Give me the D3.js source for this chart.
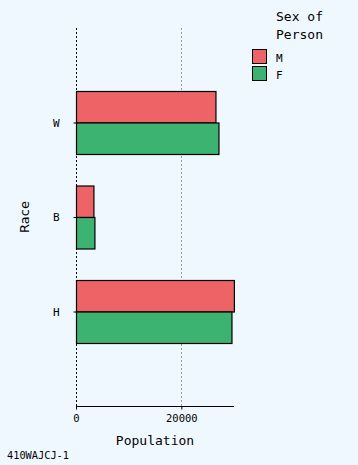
<!DOCTYPE html>
<html><head><meta charset="utf-8">
<script src="https://cdn.jsdelivr.net/npm/d3@7"></script>
<style>
html,body{margin:0;padding:0;background:#f0f8ff;}
svg{display:block;}
text{font-family:"DejaVu Sans Mono",monospace;fill:#000;}
</style></head>
<body>
<script>
const categories = ["W", "B", "H"];
const seriesNames = ["M", "F"];
const valuesM = [26480, 3310, 29980];
const valuesF = [27050, 3500, 29520];
const xTicks = [0, 20000];
const colors = ["#ee6466", "#3cb371"];

const W = 358, H = 465;
const svg = d3.select("body").append("svg").attr("width", W).attr("height", H);
svg.append("rect").attr("width", W).attr("height", H).attr("fill", "#f0f8ff");

const pL = 76, pR = 234, pT = 28, pB = 406;
const x = d3.scaleLinear().domain([0, 30000]).range([pL, pR]);
const y = d3.scalePoint().domain(categories).range([pT, pB]).padding(1);
const barH = y.step() / 3;
const series = [valuesM, valuesF];

// gridline
svg.selectAll(".grid").data(xTicks.filter(d => d > 0)).enter().append("line")
  .attr("x1", d => Math.round(x(d)) + 0.5).attr("x2", d => Math.round(x(d)) + 0.5).attr("y1", pT).attr("y2", pB)
  .attr("stroke", "#999").attr("stroke-dasharray", "2,2").attr("stroke-width", 1);

// left dashed axis line
svg.append("line").attr("x1", pL + 0.5).attr("x2", pL + 0.5).attr("y1", pT).attr("y2", pB)
  .attr("stroke", "#000").attr("stroke-dasharray", "2,2").attr("stroke-width", 1);

// bars
categories.forEach((c, i) => {
  series.forEach((vals, s) => {
    svg.append("rect")
      .attr("x", x(0) + 0.5)
      .attr("y", y(c) - barH + s * barH + 0.5)
      .attr("width", x(vals[i]) - x(0))
      .attr("height", barH)
      .attr("fill", colors[s]).attr("stroke", "#000").attr("stroke-width", 1.2);
  });
});

// y axis ticks & labels
const yAxis = d3.axisLeft(y).tickSize(3).tickPadding(14);
const gy = svg.append("g").attr("transform", `translate(${pL + 0.5},0)`).call(yAxis);
gy.select(".domain").remove();
gy.selectAll("text").style("font-size", "11px").style("font-family", "'DejaVu Sans Mono',monospace");

// x axis
const xAxis = d3.axisBottom(x).tickValues(xTicks).tickSize(3).tickFormat(d3.format("d")).tickPadding(5);
const gx = svg.append("g").attr("transform", `translate(0,${pB + 0.5})`).call(xAxis);
gx.select(".domain").attr("d", `M${pL},0H${pR}`).attr("stroke", "#000");
gx.selectAll("text").style("font-size", "10.5px").style("font-family", "'DejaVu Sans Mono',monospace");

// axis titles
svg.append("text").attr("x", (pL + pR) / 2).attr("y", 445).attr("text-anchor", "middle")
  .style("font-size", "13px").text("Population");
svg.append("text").attr("transform", `translate(29,${(pT + pB) / 2}) rotate(-90)`)
  .attr("text-anchor", "middle").style("font-family", "'DejaVu Sans',sans-serif").style("font-size", "13px").text("Race");

// footer
svg.append("text").attr("x", 7).attr("y", 459).style("font-size", "10.3px").text("410WAJCJ-1");

// legend
svg.append("text").attr("x", 276).attr("y", 21).style("font-size", "13px").text("Sex of");
svg.append("text").attr("x", 276).attr("y", 39).style("font-size", "13px").text("Person");
seriesNames.forEach((n, i) => {
  svg.append("rect").attr("x", 252.5).attr("y", 49.5 + i * 17).attr("width", 14).attr("height", 14)
    .attr("fill", colors[i]).attr("stroke", "#000").attr("stroke-width", 1);
  svg.append("text").attr("x", 276).attr("y", 62 + i * 17).style("font-size", "11px").text(n);
});
</script>
</body></html>
